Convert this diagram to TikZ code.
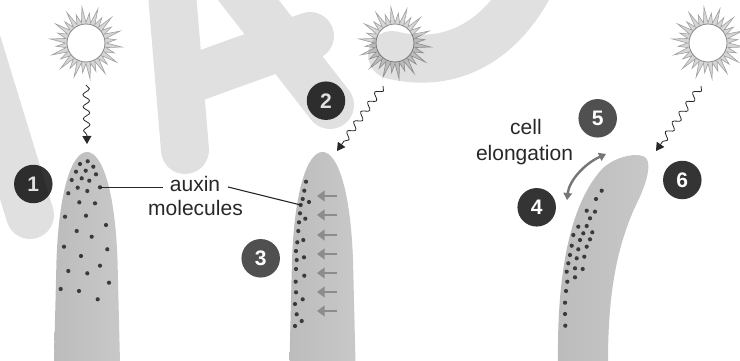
\documentclass[tikz,border=0pt]{standalone}
\usepackage{fontspec}
\setmainfont{Liberation Sans}
\usetikzlibrary{arrows.meta,decorations.pathmorphing}
\definecolor{stemedge}{RGB}{188,188,188}
\definecolor{stemmid}{RGB}{214,214,214}
\definecolor{stemright}{RGB}{200,200,200}
\definecolor{dotc}{RGB}{58,58,58}
\definecolor{badgedark}{RGB}{52,52,52}
\definecolor{badgemid}{RGB}{80,80,80}
\definecolor{rayfill}{RGB}{214,214,214}
\definecolor{rayline}{RGB}{160,160,160}
\definecolor{sunline}{RGB}{135,135,135}
\definecolor{pusharrow}{RGB}{140,140,140}
\definecolor{bendarrow}{RGB}{118,118,118}
\definecolor{inkc}{RGB}{40,40,40}
\begin{document}
\begin{tikzpicture}[x=1pt,y=-1pt,
  stem/.style={left color=stemedge, middle color=stemmid, right color=stemright},
  dot/.style={fill=dotc},
  badge/.style={circle, fill=#1, text=white, minimum size=38.5pt, inner sep=0pt,
    font=\bfseries\fontsize{21}{21}\selectfont},
  badge/.default=badgedark,
  label/.style={anchor=base, inner sep=0pt, text=inkc, font=\fontsize{21}{24}\selectfont},
  leader/.style={draw=inkc, line width=1.1pt},
  lightray/.style={draw=inkc, line width=0.8pt, decorate,
    decoration={snake, amplitude=3.3pt, segment length=12pt, post length=7pt},
    -{Triangle[length=8pt, width=9pt]}},
  pushflow/.style={draw=pusharrow, line width=2.8pt, -{Triangle[length=7.5pt, width=10.5pt]}},
  sunpic/.pic={
    \filldraw[fill=rayfill, draw=rayline, line width=0.6pt, line join=miter]
      (0:20.5) \foreach \k in {0,...,13}{
        -- ({\k*25.714+6.43}:36) -- ({\k*25.714+12.857}:20.5)
        -- ({\k*25.714+19.29}:30) -- ({\k*25.714+25.714}:20.5)} -- cycle;
    \filldraw[fill=white, draw=sunline, line width=0.8pt] (0,0) circle (19);
  }]
\useasboundingbox (0,0) rectangle (740,361);
\fill[white] (0,0) rectangle (740,361);

% shoots
\foreach \c in {87,322.5}{
  \path[stem] ({\c-33},362) -- ({\c-30.5},260)
    .. controls ({\c-28},190) and ({\c-15},152) .. (\c,152)
    .. controls ({\c+15},152) and ({\c+28},190) .. ({\c+30.5},260)
    -- ({\c+33},362) -- cycle;
}
\path[stem] (558,362) .. controls (557,280) and (568,205) .. (603,168)
  .. controls (618,155) and (640,152) .. (646,158)
  .. controls (652,165) and (646,185) .. (636,205)
  .. controls (615,250) and (608,300) .. (608,362) -- cycle;

% suns
\pic (sunA) at (86,43) {sunpic};
\pic (sunB) at (395,43) {sunpic};
\pic (sunC) at (708,43) {sunpic};

% light rays
\coordinate (rayA0) at (86,85);   \coordinate (rayA1) at (87,144);
\coordinate (rayB0) at (383,86);  \coordinate (rayB1) at (337,151);
\coordinate (rayC0) at (701,86);  \coordinate (rayC1) at (656,151);
\draw[lightray] (rayA0) -- (rayA1);
\draw[lightray] (rayB0) -- (rayB1);
\draw[lightray] (rayC0) -- (rayC1);

% auxin in the upright shoot
\foreach \p in {(80,164),(87.7,161.3),(93.3,166.7),(76,171.7),(85.7,170.7),(96,174.3),
  (71.7,180),(81.7,178.3),(89.3,180.7),(68.3,193.3),(77.7,187.7),(87.3,191),(100,187.3),
  (79.3,202.3),(95,203.3),(65,216.7),(86,215.7),(106,225),(76.7,231),(91.7,236.7),
  (64,246.7),(107.3,249.3),(81,256),(100,265.7),(68.3,271),(87.3,273.3),(109,282.7),
  (60.7,289),(79,291),(97.7,299.3)}
  \fill[dot] \p circle (2.1);

% auxin moved to the shaded side
\foreach \p in {(306,181.7),(304.3,190.7),(302.7,199),(309,202),(300.7,205),(300,213.3),
  (305.3,218.7),(299,222.3),(298.3,231),(303.3,240),(297.3,242.3),(296,251),(304,257.3),
  (296.7,260),(296,269),(304.3,275.7),(295.7,281.7),(296,292.3),(302.7,299.3),(295,304),
  (296.7,314.3),(301.7,321),(295,326)}
  \fill[dot] \p circle (2.1);

% auxin in the bending shoot
\foreach \p in {(601.7,190.7),(596,199),(586.7,210.7),(595,211.7),(590,218.3),(578.3,226.7),
  (586.7,226),(573.3,235),(583.3,233.3),(592.3,232.3),(580,240),(590,239.3),(571.7,245.7),
  (586.7,246.7),(578.3,249.3),(570,255),(576.7,258.3),(584.3,256.7),(568.3,263.3),
  (575,268.3),(582.7,269),(566.7,271.7),(575,277.3),(567.3,281.7),(566,291),(565,302.7),
  (565,314),(565.3,325.7)}
  \fill[dot] \p circle (2.1);

% transport arrows
\foreach \y [count=\i] in {196,215,235,254,273,292,311}{
  \coordinate (pushS\i) at (337,\y);
  \coordinate (pushE\i) at (317,\y);
  \draw[pushflow] (pushS\i) -- (pushE\i);
}

% labels
\node[label] (auxin) at (195,191.6) {auxin};
\node[label] (molec) at (195.5,215.6) {molecules};
\node[label] (cell) at (526,135) {cell};
\node[label] (elong) at (524.5,160.7) {elongation};
\coordinate (molA) at (100,187.3);
\coordinate (molB) at (300.7,205);
\coordinate (auxL) at (163,187.3);
\coordinate (auxR) at (228,187);
\draw[leader] (molA) -- (auxL);
\draw[leader] (auxR) -- (molB);

% elongation arrow
\coordinate (bendA) at (567,200);
\coordinate (bendB) at (606,154);
\draw[draw=bendarrow, line width=2.4pt,
  {Triangle[length=7pt, width=8.5pt]}-{Triangle[length=7pt, width=8.5pt]}]
  (bendA) .. controls (569,181) and (584,164) .. (bendB);

% step badges
\node[badge] (b1) at (33.3,184) {1};
\node[badge] (b2) at (326,100.7) {2};
\node[badge=badgemid] (b3) at (260.7,258.3) {3};
\node[badge] (b4) at (536.7,207.3) {4};
\node[badge=badgemid] (b5) at (597.7,118.3) {5};
\node[badge] (b6) at (682.3,180) {6};

% faint lettering laid over the artwork
\draw[line width=48pt, line cap=round, line join=round, draw=black, draw opacity=0.12]
  (-45,-30) -- (30,215)
  (170,-30) -- (185,150)
  (188,80) -- (310,36)
  (225,-30) -- (330,105)
  (392,55) .. controls (445,68) and (500,48) .. (535,-25);
\end{tikzpicture}
\end{document}
